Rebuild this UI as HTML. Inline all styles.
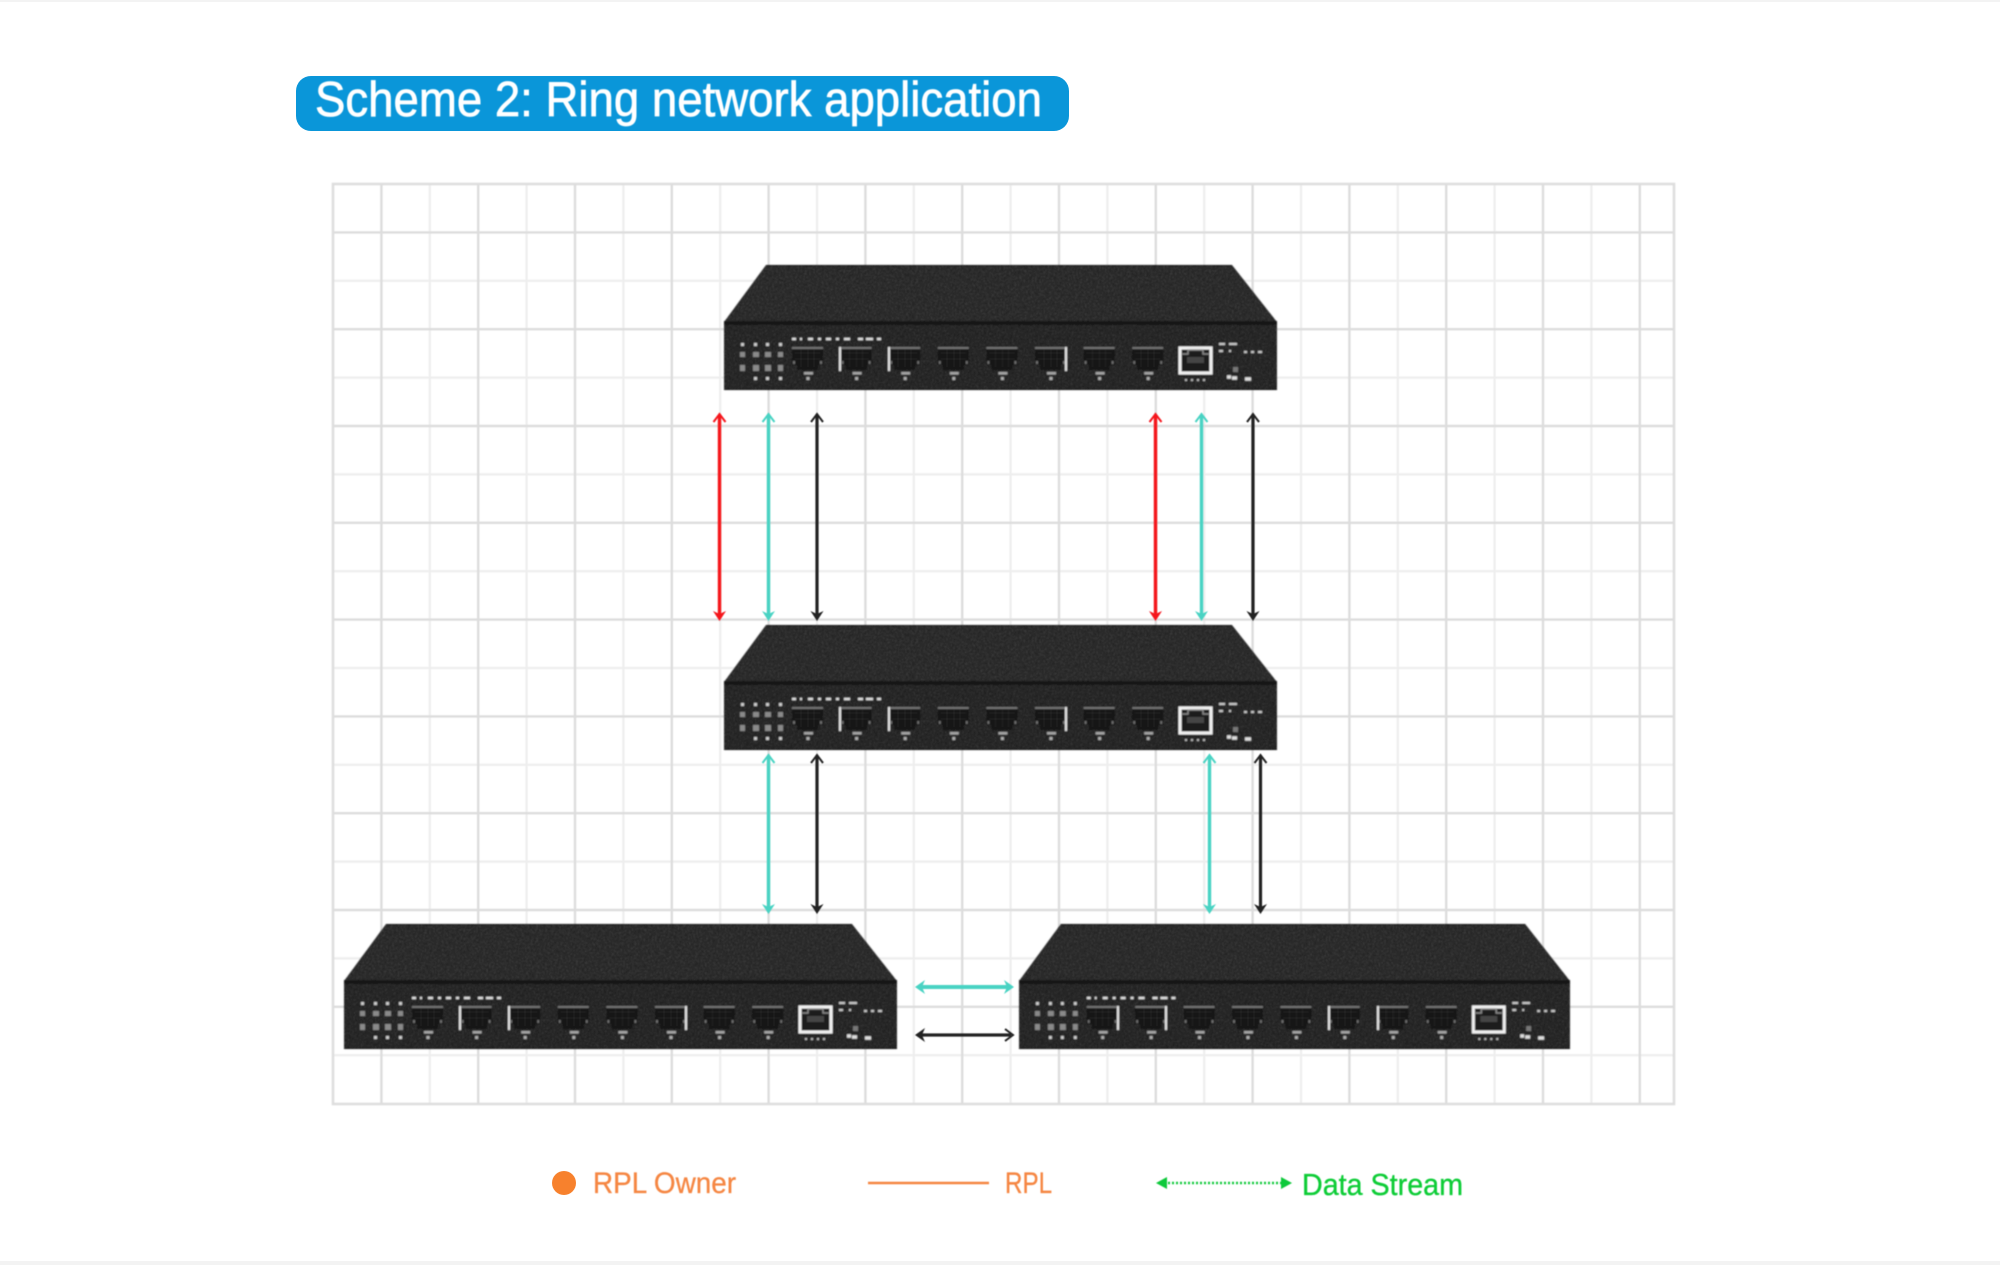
<!DOCTYPE html>
<html lang="en">
<head>
<meta charset="utf-8">
<title>Scheme 2: Ring network application</title>
<style>
html,body{margin:0;padding:0;background:#fff;width:2000px;height:1265px;overflow:hidden}
svg{display:block}
text{font-family:"Liberation Sans",sans-serif}
</style>
</head>
<body>
<svg xmlns="http://www.w3.org/2000/svg" width="2000" height="1265" viewBox="0 0 2000 1265">
<defs>
  <filter id="soft" x="-5%" y="-5%" width="110%" height="110%"><feGaussianBlur stdDeviation="0.8"/></filter>
  <filter id="soft2" x="-5%" y="-5%" width="110%" height="110%"><feGaussianBlur stdDeviation="0.55"/></filter>
  <filter id="txt" x="-2%" y="-10%" width="104%" height="120%"><feGaussianBlur stdDeviation="0.4"/></filter>
  <filter id="noise" x="0" y="0" width="100%" height="100%">
    <feTurbulence type="fractalNoise" baseFrequency="0.7" numOctaves="1" seed="4" result="n"/>
    <feColorMatrix in="n" type="matrix" values="0 0 0 0 1  0 0 0 0 1  0 0 0 0 1  0 0 0 0.35 -0.13"/>
    <feComposite operator="in" in2="SourceGraphic"/>
  </filter>
  <g id="port">
    <path d="M0 1H31V18H26V23H5V18H0Z" fill="#121212"/>
    <path d="M3 6H28M3 12H28M9 2V20M16 2V20M22 2V20" stroke="#262626" stroke-width="1" fill="none"/>
    <rect x="0" y="0" width="31" height="2" fill="#737373"/>
    <rect x="12" y="25" width="9" height="2.5" fill="#a5a5a5"/>
    <rect x="1" y="14" width="2" height="3" fill="#707070"/>
    <rect x="28" y="14" width="2" height="3" fill="#707070"/>
    <rect x="14.5" y="30" width="3" height="3" fill="#b0b0b0"/>
  </g>
  <g id="sw">
    <polygon points="42,0 508,0 553,57 0,57" fill="#212121"/>
    <rect x="0" y="57" width="553" height="68" fill="#1c1c1c"/>
    <polygon points="42,0 508,0 553,57 553,125 0,125 0,57" fill="#fff" filter="url(#noise)"/>
    <rect x="0" y="56" width="553" height="4" fill="#141414"/>
    <line x1="42" y1="0.5" x2="508" y2="0.5" stroke="#111" stroke-width="1"/>
    <line x1="0" y1="124.5" x2="553" y2="124.5" stroke="#111" stroke-width="1"/>
    <!-- LEDs -->
    <g fill="#cfcfcf">
      <rect x="17" y="78" width="3" height="3"/><rect x="30" y="78" width="3" height="3"/><rect x="42" y="78" width="3" height="3"/><rect x="55" y="78" width="3" height="3"/>
      <rect x="30" y="112" width="3" height="3"/><rect x="42" y="112" width="3" height="3"/><rect x="55" y="112" width="3" height="3"/>
    </g>
    <g fill="#8a8a8a">
      <rect x="16" y="87" width="5" height="5"/><rect x="29" y="87" width="6" height="5"/><rect x="41" y="87" width="6" height="5"/><rect x="54" y="87" width="5" height="5"/>
      <rect x="16" y="100" width="5" height="6"/><rect x="29" y="100" width="6" height="6"/><rect x="41" y="100" width="6" height="6"/><rect x="54" y="100" width="5" height="6"/>
    </g>
    <!-- tiny printed label marks -->
    <path d="M68 74h4M76 74h2M84 74h5M94 74h3M102 74h5M112 74h3M120 74h6M134 74h5M142 74h7M153 74h4" stroke="#e0e0e0" stroke-width="2.4" fill="none"/>
    <!-- ports -->
    <use href="#port" x="68" y="82"/>
    <use href="#port" x="116.6" y="82"/>
    <use href="#port" x="165.2" y="82"/>
    <use href="#port" x="213.8" y="82"/>
    <use href="#port" x="262.4" y="82"/>
    <use href="#port" x="311" y="82"/>
    <use href="#port" x="359.6" y="82"/>
    <use href="#port" x="408.2" y="82"/>
    <!-- RJ45 -->
    <rect x="456" y="83" width="31" height="25" fill="#1a1a1a" stroke="#f2f2f2" stroke-width="3"/>
    <path d="M458 89h6v-4h15v4h6" stroke="#8a8a8a" stroke-width="1.5" fill="none"/>
    <rect x="463" y="92" width="17" height="6" fill="#444"/>
    <path d="M461 115h2M467 115h2M473 115h2M479 115h2" stroke="#bbb" stroke-width="2" fill="none"/>
    <!-- right side marks -->
    <path d="M495 79h6M505 79h8M495 86h4M505 86h2M520 87h3M527 87h3M534 87h4" stroke="#c8c8c8" stroke-width="2.2" fill="none"/>
    <rect x="509" y="102" width="5" height="5" fill="#777"/>
    <path d="M503 112h4M508 113h5M521 114h6" stroke="#e0e0e0" stroke-width="3.5" fill="none"/>
  </g>
</defs>

<rect width="2000" height="1265" fill="#fff"/>
<rect x="0" y="0" width="2000" height="2" fill="#f3f3f3"/>
<rect x="0" y="1261" width="2000" height="4" fill="#f3f3f3"/>

<!-- title badge -->
<rect x="296" y="76" width="773" height="55" rx="15" ry="15" fill="#0a96d9"/>
<text x="315" y="116" font-size="49" fill="#fff" stroke="#fff" stroke-width="0.7" filter="url(#txt)" textLength="727" lengthAdjust="spacingAndGlyphs">Scheme 2: Ring network application</text>

<!-- grid -->
<g filter="url(#soft2)" fill="none">
  <path stroke="#eeeeee" stroke-width="2.2" d="M429.8 184V1104M526.6 184V1104M623.4 184V1104M720.2 184V1104M817 184V1104M913.8 184V1104M1010.6 184V1104M1107.4 184V1104M1204.2 184V1104M1301 184V1104M1397.8 184V1104M1494.6 184V1104M1591.4 184V1104"/>
  <path stroke="#eeeeee" stroke-width="2.2" d="M333 280.8H1674M333 377.6H1674M333 474.4H1674M333 571.2H1674M333 668H1674M333 764.8H1674M333 861.6H1674M333 958.4H1674M333 1055.2H1674"/>
  <path stroke="#dddddd" stroke-width="2.4" d="M381.4 184V1104M478.2 184V1104M575 184V1104M671.8 184V1104M768.6 184V1104M865.4 184V1104M962.2 184V1104M1059 184V1104M1155.8 184V1104M1252.6 184V1104M1349.4 184V1104M1446.2 184V1104M1543 184V1104M1639.8 184V1104"/>
  <path stroke="#dddddd" stroke-width="2.4" d="M333 232.4H1674M333 329.2H1674M333 426H1674M333 522.8H1674M333 619.6H1674M333 716.4H1674M333 813.2H1674M333 910H1674M333 1006.8H1674"/>
  <rect x="333" y="184" width="1341" height="920" stroke="#dedede" stroke-width="2.6"/>
</g>

<!-- switches -->
<g filter="url(#soft)">
  <use href="#sw" x="724" y="265"/>
  <use href="#sw" x="724" y="625"/>
  <use href="#sw" x="344" y="924"/>
  <use href="#sw" transform="translate(1019 924) scale(0.9964 1)"/>
  <g stroke="#e6e6e6" stroke-width="2" fill="none">
    <path d="M840 347V371M889 347V371M1066 347V371"/>
    <path d="M840 707V731M889 707V731M1066 707V731"/>
    <path d="M460 1006V1030M509 1006V1030M686 1006V1030"/>
    <path d="M1118 1006V1030M1166 1006V1030M1329 1006V1030M1378 1006V1030"/>
  </g>
</g>

<!-- arrows -->
<g filter="url(#soft2)" fill="none" stroke-linejoin="miter">
  <g stroke="#f5131c" fill="none">
    <path stroke-width="3.4" d="M719.5 415V615M1155.5 415V615"/>
    <path stroke-width="2" d="M713.5 422L719.5 414L725.5 422M1149.5 422L1155.5 414L1161.5 422"/>
  </g>
  <path fill="#f5131c" d="M713 611L719.5 621L726 611L719.5 614ZM1149 611L1155.5 621L1162 611L1155.5 614Z"/>

  <g stroke="#49d3c3" fill="none">
    <path stroke-width="3.4" d="M768.5 415V615M1201.5 415V615M768.5 756V908M1209.5 756V908"/>
    <path stroke-width="2" d="M762.5 422L768.5 414L774.5 422M1195.5 422L1201.5 414L1207.5 422M762.5 763L768.5 755L774.5 763M1203.5 763L1209.5 755L1215.5 763"/>
    <path stroke-width="4" d="M920 987H1009"/>
  </g>
  <path fill="#49d3c3" d="M762 611L768.5 621L775 611L768.5 614ZM1195 611L1201.5 621L1208 611L1201.5 614ZM762 904L768.5 914L775 904L768.5 907ZM1203 904L1209.5 914L1216 904L1209.5 907ZM925 980L915 987L925 994L922 987ZM1004 980L1014 987L1004 994L1007 987Z"/>

  <g stroke="#222" fill="none">
    <path stroke-width="3.2" d="M817 415V615M1253 415V615M817 756V908M1260.5 756V908"/>
    <path stroke-width="2" d="M811 422L817 414L823 422M1247 422L1253 414L1259 422M811 763L817 755L823 763M1254.5 763L1260.5 755L1266.5 763"/>
    <path stroke-width="3.2" d="M920 1035H1011"/>
    <path stroke-width="2" d="M1005 1029L1013 1035L1005 1041"/>
  </g>
  <path fill="#222" d="M810.5 611L817 621L823.5 611L817 614ZM1246.5 611L1253 621L1259.5 611L1253 614ZM810.5 904L817 914L823.5 904L817 907ZM1254 904L1260.5 914L1267 904L1260.5 907ZM925 1028L915 1035L925 1042L922 1035Z"/>
</g>

<!-- legend -->
<circle cx="564" cy="1183" r="12" fill="#f7812d"/>
<g filter="url(#txt)">
<text x="593" y="1193" font-size="30" fill="#f58642" stroke="#f58642" stroke-width="0.3" textLength="143" lengthAdjust="spacingAndGlyphs">RPL Owner</text>
<line x1="868" y1="1183" x2="989" y2="1183" stroke="#f58642" stroke-width="2.5"/>
<text x="1005" y="1193" font-size="30" fill="#f58642" stroke="#f58642" stroke-width="0.3" textLength="47" lengthAdjust="spacingAndGlyphs">RPL</text>
<line x1="1164" y1="1183" x2="1284" y2="1183" stroke="#11c93a" stroke-width="2.5" stroke-dasharray="2 2"/>
<path fill="#11c93a" d="M1167 1177L1156 1183L1167 1189ZM1281 1177L1292 1183L1281 1189Z"/>
<text x="1302" y="1195" font-size="31" fill="#08cc35" stroke="#08cc35" stroke-width="0.3" textLength="161" lengthAdjust="spacingAndGlyphs">Data Stream</text>
</g>
</svg>
</body>
</html>
